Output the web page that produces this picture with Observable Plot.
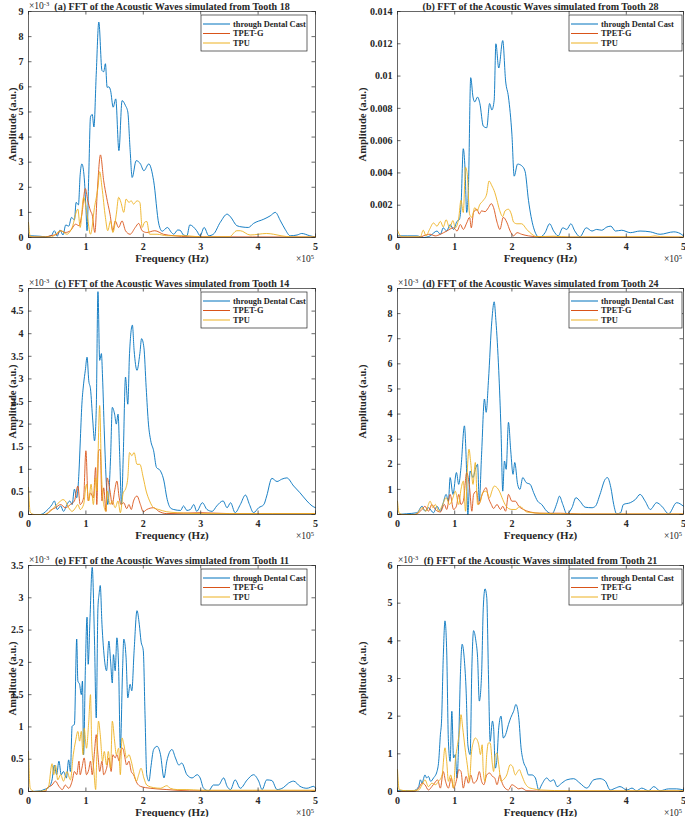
<!DOCTYPE html>
<html><head><meta charset="utf-8">
<script src="https://cdn.jsdelivr.net/npm/d3@7"></script>
<script src="https://cdn.jsdelivr.net/npm/@observablehq/plot@0.6"></script>
<style>
body{margin:0;background:#fff;}
#root{position:relative;width:685px;height:817px;overflow:hidden;background:#fff;}
.panel{position:absolute;}
.panel svg{overflow:visible;}
</style></head><body><div id="root"></div>
<script>
// Frequency in units of 1e5 Hz, amplitude in units of 1e-3 a.u.
const seriesNames = ["through Dental Cast", "TPET-G", "TPU"];
const seriesColors = ["#0072BD", "#D95319", "#EDB120"];
const xTickValues = [0, 1, 2, 3, 4, 5];

const titles = [
  "(a) FFT of the Acoustic Waves simulated from Tooth 18",
  "(b) FFT of the Acoustic Waves simulated from Tooth 28",
  "(c) FFT of the Acoustic Waves simulated from Tooth 14",
  "(d) FFT of the Acoustic Waves simulated from Tooth 24",
  "(e) FFT of the Acoustic Waves simulated from Tooth 11",
  "(f) FFT of the Acoustic Waves simulated from Tooth 21"
];
const yMaxes = [9, 14, 5, 9, 3.5, 6];
const yTickSteps = [1, 2, 0.5, 1, 0.5, 1];

// ---- (a) Tooth 18
const castA = [[0,0.07],[0.2,0.05],[0.3,0.03],[0.4,0.08],[0.45,0.27],[0.5,0.05],[0.55,0.3],[0.6,0.1],[0.65,0.5],[0.7,0.45],[0.75,0.8],[0.8,0.7],[0.83,1.4],[0.87,1.3],[0.9,2.5],[0.93,2.93],[0.97,2.4],[1.0,1.2],[1.02,0.27],[1.05,2.5],[1.08,4.8],[1.11,4.9],[1.14,4.4],[1.18,6.5],[1.225,8.58],[1.28,6.65],[1.31,6.6],[1.34,6.92],[1.37,5.98],[1.4,6.0],[1.43,5.85],[1.475,5.19],[1.52,5.52],[1.575,3.46],[1.63,5.45],[1.69,5.25],[1.73,5.0],[1.77,3.5],[1.806,2.39],[1.876,3.06],[1.95,2.93],[2.01,2.66],[2.096,2.93],[2.18,2.26],[2.27,0.54],[2.33,0.25],[2.42,0.4],[2.49,0.2],[2.53,0.13],[2.6,0.3],[2.64,0.29],[2.7,0.1],[2.76,0.07],[2.81,0.5],[2.93,0.27],[2.99,0.07],[3.06,0.4],[3.14,0.07],[3.22,0.13],[3.34,0.6],[3.46,0.93],[3.52,0.82],[3.63,0.47],[3.72,0.42],[3.83,0.4],[3.92,0.56],[4.1,0.73],[4.21,0.86],[4.3,1.0],[4.39,0.66],[4.47,0.33],[4.56,0.07],[4.68,0.1],[4.76,0.16],[4.9,0.07],[5,0.02]];
const tpetgA = [[0,0.02],[0.3,0.02],[0.38,0.07],[0.5,0.13],[0.56,0.27],[0.64,0.2],[0.73,0.27],[0.82,0.53],[0.88,0.47],[0.93,0.93],[0.99,1.95],[1.03,1.5],[1.08,1.06],[1.11,0.9],[1.156,0.2],[1.2,1.9],[1.254,3.29],[1.31,2.26],[1.36,1.6],[1.42,0.93],[1.47,0.27],[1.51,0.66],[1.57,0.4],[1.63,0.66],[1.69,0.27],[1.77,0.13],[1.86,0.4],[1.92,0.56],[1.98,0.27],[2.06,0.2],[2.2,0.27],[2.35,0.13],[2.53,0.07],[2.8,0.03],[5,0.02]];
const tpuA = [[0,0.6],[0.03,0.05],[0.1,0.02],[0.4,0.02],[0.44,0.07],[0.56,0.27],[0.67,0.13],[0.76,0.4],[0.86,1.13],[0.9,0.4],[0.96,1.6],[1.02,0.93],[1.08,0.13],[1.15,1.2],[1.21,2.0],[1.24,2.62],[1.28,2.0],[1.34,0.8],[1.38,0.27],[1.43,0.66],[1.47,0.2],[1.53,0.93],[1.57,1.6],[1.61,1.4],[1.66,1.0],[1.7,1.53],[1.75,1.4],[1.79,1.46],[1.83,1.33],[1.89,1.46],[1.94,1.4],[1.98,0.4],[2.02,0.6],[2.06,0.64],[2.11,0.13],[2.24,0.13],[2.41,0.07],[2.76,0.07],[3.0,0.02],[3.5,0.03],[3.63,0.27],[3.69,0.27],[3.86,0.1],[4.15,0.16],[4.27,0.13],[4.4,0.07],[4.6,0.02],[5,0.02]];

// ---- (b) Tooth 28
const castB = [[0,0.1],[0.34,0.1],[0.45,0],[0.57,0.1],[0.69,0.4],[0.75,0.2],[0.8,0.6],[0.86,0.4],[0.92,0.8],[0.98,0.5],[1.04,1.0],[1.08,1.1],[1.11,1.9],[1.15,5.5],[1.18,4.3],[1.21,1.55],[1.24,3.1],[1.28,9.9],[1.32,8.7],[1.35,8.4],[1.4,8.7],[1.44,8.3],[1.5,6.9],[1.56,6.8],[1.61,8.3],[1.65,7.9],[1.69,8.5],[1.72,12.0],[1.77,10.5],[1.84,12.2],[1.89,9.7],[1.94,8.7],[2.0,6.4],[2.04,3.8],[2.1,4.55],[2.17,4.45],[2.23,4.1],[2.29,2.3],[2.38,0.6],[2.48,0],[2.58,0.3],[2.66,0.85],[2.73,0.4],[2.81,0.1],[2.89,0.6],[2.96,0.5],[3.03,0.85],[3.1,0.4],[3.19,0.05],[3.3,0.6],[3.4,0.4],[3.48,0.5],[3.57,0.45],[3.66,0.65],[3.73,0.7],[3.81,0.4],[3.92,0.45],[4.07,0.3],[4.24,0.4],[4.42,0.35],[4.59,0.2],[4.83,0.35],[4.94,0.25],[5,0.1]];
const tpetgB = [[0,0.02],[0.4,0.02],[0.45,0.1],[0.57,0.2],[0.66,0.1],[0.75,0.2],[0.86,0.4],[0.98,0.6],[1.04,0.4],[1.1,0.8],[1.15,0.5],[1.21,0.9],[1.26,1.25],[1.29,0.6],[1.33,1.55],[1.39,1.75],[1.43,1.45],[1.47,1.65],[1.53,1.6],[1.59,1.85],[1.64,2.1],[1.68,1.85],[1.74,0.95],[1.79,0.5],[1.85,1.25],[1.91,0.95],[1.97,0.4],[2.03,0.1],[2.09,0.3],[2.17,0.2],[2.29,0.1],[2.49,0.04],[3,0.02],[5,0.02]];
const tpuB = [[0,0.45],[0.05,0.1],[0.1,0.04],[0.4,0.04],[0.45,0.45],[0.5,0.1],[0.56,0.5],[0.63,0.9],[0.69,0.7],[0.75,1.0],[0.8,0.65],[0.85,1.1],[0.91,0.6],[0.97,1.05],[1.01,0.6],[1.07,1.2],[1.11,2.3],[1.15,1.55],[1.19,4.35],[1.22,3.9],[1.26,1.45],[1.3,1.25],[1.35,1.85],[1.39,1.65],[1.44,2.05],[1.5,2.3],[1.56,2.7],[1.6,3.5],[1.65,3.2],[1.7,2.8],[1.74,2.3],[1.78,1.75],[1.84,1.3],[1.88,1.65],[1.94,1.75],[1.99,1.45],[2.03,0.95],[2.09,0.85],[2.17,0.85],[2.26,0.5],[2.35,0.2],[2.44,0.05],[2.73,0.08],[3,0.03],[4.4,0.05],[4.5,0.1],[4.6,0.05],[5,0.03]];

// ---- (c) Tooth 14
const castC = [[0,0],[0.21,0],[0.32,0.09],[0.41,0.22],[0.45,0.3],[0.5,0.11],[0.56,0.19],[0.61,0.07],[0.67,0.22],[0.72,0.3],[0.76,0.22],[0.8,0.56],[0.84,0.37],[0.88,0.96],[0.9,1.56],[0.93,2.44],[0.96,2.89],[0.99,3.19],[1.02,3.48],[1.05,2.96],[1.08,2.78],[1.12,2.07],[1.15,1.63],[1.18,2.3],[1.21,4.93],[1.24,3.41],[1.27,3.56],[1.29,3.04],[1.32,1.85],[1.36,0.59],[1.38,0.22],[1.43,1.26],[1.46,2.37],[1.5,2.22],[1.53,2.0],[1.56,2.22],[1.59,1.26],[1.62,0.22],[1.65,1.26],[1.69,3.04],[1.73,2.44],[1.76,3.56],[1.81,4.19],[1.84,3.63],[1.89,3.19],[1.94,3.56],[1.97,3.89],[2.01,3.7],[2.05,2.81],[2.09,2.0],[2.13,1.63],[2.18,1.41],[2.23,1.04],[2.29,0.98],[2.36,0.74],[2.41,0.37],[2.47,0.15],[2.53,0.11],[2.65,0.09],[2.7,0.19],[2.76,0.09],[2.82,0.11],[2.88,0.22],[2.93,0.07],[3.03,0.26],[3.11,0.11],[3.2,0.07],[3.28,0.19],[3.39,0.3],[3.46,0.15],[3.52,0.26],[3.6,0.04],[3.69,0.22],[3.78,0.43],[3.85,0.22],[3.92,0.04],[4.01,0.15],[4.1,0.22],[4.15,0.41],[4.24,0.8],[4.33,0.73],[4.41,0.78],[4.5,0.81],[4.62,0.63],[4.73,0.48],[4.85,0.3],[4.94,0.19],[5,0.15]];
const tpetgC = [[0,0],[0.3,0],[0.38,0.09],[0.47,0.15],[0.56,0.22],[0.64,0.15],[0.73,0.22],[0.8,0.3],[0.86,0.63],[0.9,0.22],[0.96,0.37],[1.0,1.41],[1.04,0.3],[1.08,0.48],[1.13,0.37],[1.17,1.04],[1.19,0.22],[1.22,1.41],[1.25,1.44],[1.28,0.3],[1.31,0.59],[1.35,0.07],[1.37,0.81],[1.42,0.52],[1.46,0.22],[1.5,0.52],[1.54,0.74],[1.58,0.37],[1.61,0.22],[1.66,0.26],[1.71,0.13],[1.75,0.22],[1.79,0.11],[1.83,0.3],[1.89,0.41],[1.95,0.22],[2.0,0.06],[2.06,0.11],[2.18,0.15],[2.27,0.07],[2.41,0.02],[3.0,0.04],[3.5,0.02],[5,0.02]];
const tpuC = [[0,0.6],[0.03,0.05],[0.1,0],[0.27,0],[0.38,0.07],[0.47,0.19],[0.56,0.3],[0.6,0.33],[0.64,0.3],[0.7,0.15],[0.76,0.07],[0.82,0.15],[0.86,0.22],[0.9,0.11],[0.96,0.22],[1.01,0.67],[1.05,0.3],[1.09,0.67],[1.13,0.22],[1.17,0.81],[1.19,0.52],[1.24,2.41],[1.27,0.96],[1.31,0.22],[1.35,0.07],[1.37,0.52],[1.42,0.22],[1.46,0.3],[1.51,0.15],[1.56,0.3],[1.6,0.04],[1.65,0.48],[1.69,0.56],[1.73,0.81],[1.76,1.37],[1.8,1.3],[1.84,1.37],[1.89,1.11],[1.94,1.11],[2.0,0.81],[2.05,0.52],[2.11,0.3],[2.18,0.15],[2.27,0.11],[2.41,0.06],[2.59,0.04],[3,0.02],[5,0.02]];

// ---- (d) Tooth 24
const castD = [[0,0],[0.16,0.03],[0.34,0.07],[0.43,0.33],[0.48,0.13],[0.54,0.27],[0.63,0.07],[0.69,0.33],[0.75,0.13],[0.8,0.47],[0.85,0.8],[0.89,0.53],[0.92,1.47],[0.97,0.8],[1.03,1.67],[1.07,1.2],[1.11,1.87],[1.17,3.53],[1.2,2.27],[1.23,0],[1.27,1.73],[1.32,1.47],[1.36,1.8],[1.4,2.0],[1.43,0.53],[1.47,2.4],[1.52,4.6],[1.55,4.07],[1.59,5.33],[1.65,7.73],[1.69,8.47],[1.72,7.73],[1.77,5.73],[1.81,3.33],[1.84,0.93],[1.87,2.13],[1.9,1.8],[1.94,3.67],[1.98,2.53],[2.02,1.6],[2.05,2.07],[2.1,1.2],[2.14,1.0],[2.19,1.47],[2.25,1.27],[2.32,1.2],[2.38,0.87],[2.45,0.53],[2.52,0.4],[2.61,0.13],[2.7,0.03],[2.79,0.47],[2.83,0.73],[2.89,0.4],[2.96,0.03],[3.05,0.27],[3.12,0.67],[3.19,0.53],[3.28,0.29],[3.4,0.27],[3.46,0.33],[3.54,0.8],[3.63,1.4],[3.67,1.47],[3.73,1.07],[3.78,0.4],[3.83,0.03],[3.9,0.07],[3.95,0.4],[4.07,0.47],[4.16,0.6],[4.24,0.8],[4.33,0.53],[4.42,0.2],[4.53,0.47],[4.62,0.33],[4.74,0.03],[4.88,0.47],[5,0.33]];
const tpetgD = [[0,0],[0.3,0],[0.34,0.03],[0.43,0.2],[0.48,0.33],[0.54,0.13],[0.6,0.4],[0.66,0.2],[0.75,0.1],[0.82,0.4],[0.86,0.2],[0.92,0.8],[0.98,0.2],[1.03,0.33],[1.07,0.8],[1.11,0.4],[1.15,0.53],[1.21,1.67],[1.26,1.07],[1.3,0.13],[1.33,0.8],[1.38,0.93],[1.42,0.4],[1.47,0.73],[1.52,1.0],[1.55,1.07],[1.59,0.67],[1.64,0.4],[1.68,0.24],[1.74,0.4],[1.8,0.2],[1.84,0.33],[1.89,0.13],[1.94,0.8],[2.0,0.53],[2.06,0.53],[2.12,0.33],[2.2,0.2],[2.32,0.1],[2.49,0.05],[2.85,0.05],[3.2,0.02],[5,0.02]];
const tpuD = [[0,0.53],[0.03,0.05],[0.1,0],[0.3,0],[0.34,0.03],[0.43,0.27],[0.5,0.13],[0.54,0.4],[0.57,0.53],[0.62,0.27],[0.66,0.4],[0.72,0.13],[0.79,0.4],[0.85,0.67],[0.91,0.4],[0.97,0.67],[1.01,0.93],[1.07,0.4],[1.11,1.0],[1.15,1.33],[1.19,0.13],[1.22,1.73],[1.25,2.6],[1.28,2.07],[1.32,1.2],[1.36,2.07],[1.4,0.4],[1.45,0.53],[1.49,0.87],[1.55,0.93],[1.61,0.67],[1.65,0.93],[1.69,1.13],[1.74,1.07],[1.78,0.93],[1.84,0.6],[1.88,0.4],[1.94,0.24],[2.0,0.2],[2.07,0.2],[2.14,0.33],[2.19,0.24],[2.26,0.1],[2.49,0.05],[3,0.02],[5,0.02]];

// ---- (e) Tooth 11
const castE = [[0,0],[0.21,0.01],[0.27,0.03],[0.35,0.06],[0.41,0.18],[0.45,0.41],[0.49,0.26],[0.53,0.47],[0.57,0.26],[0.61,0.31],[0.66,0.21],[0.7,0.49],[0.73,0.31],[0.76,1.01],[0.8,1.04],[0.84,2.36],[0.86,1.71],[0.89,1.66],[0.92,1.5],[0.94,1.71],[0.96,0.57],[0.99,1.87],[1.02,2.7],[1.04,1.97],[1.07,2.64],[1.11,3.47],[1.15,2.33],[1.18,1.14],[1.21,2.85],[1.23,3.06],[1.25,3.19],[1.28,2.59],[1.31,2.18],[1.36,1.87],[1.4,2.33],[1.43,2.02],[1.46,1.68],[1.48,2.12],[1.51,1.87],[1.54,2.38],[1.57,1.92],[1.6,0.67],[1.64,1.92],[1.66,2.36],[1.7,2.07],[1.73,1.45],[1.77,1.66],[1.8,1.56],[1.84,2.18],[1.89,2.8],[1.93,2.59],[1.96,2.33],[2.0,2.18],[2.03,1.19],[2.06,0.26],[2.1,0.16],[2.13,0.36],[2.18,0.65],[2.24,0.7],[2.3,0.57],[2.36,0.21],[2.41,0.47],[2.5,0.65],[2.56,0.52],[2.62,0.41],[2.67,0.44],[2.76,0.26],[2.85,0.21],[2.94,0.26],[2.99,0.21],[3.05,0.05],[3.14,0.01],[3.22,0.1],[3.31,0.1],[3.4,0.21],[3.46,0.08],[3.52,0.03],[3.6,0.18],[3.69,0.05],[3.81,0.18],[3.92,0.26],[4.01,0.16],[4.07,0.03],[4.15,0.18],[4.24,0.17],[4.33,0.03],[4.44,0.06],[4.53,0.13],[4.62,0.16],[4.73,0.08],[4.85,0.05],[4.97,0.08],[5,0.05]];
const tpetgE = [[0,0],[0.3,0],[0.32,0.05],[0.41,0.1],[0.47,0.16],[0.53,0.08],[0.59,0.03],[0.64,0.1],[0.7,0.05],[0.76,0.16],[0.8,0.31],[0.84,0.26],[0.88,0.47],[0.9,0.26],[0.93,0.36],[0.97,0.52],[1.01,0.26],[1.05,0.34],[1.08,0.47],[1.11,0.26],[1.15,0.62],[1.18,0.88],[1.21,0.57],[1.24,0.31],[1.28,0.47],[1.31,0.26],[1.36,0.36],[1.4,0.52],[1.44,0.31],[1.47,0.57],[1.51,0.52],[1.54,0.57],[1.58,0.47],[1.61,0.65],[1.64,0.67],[1.67,0.57],[1.71,0.41],[1.75,0.47],[1.79,0.31],[1.83,0.26],[1.89,0.13],[1.95,0.08],[2.04,0.06],[2.12,0.05],[2.24,0.04],[2.41,0.03],[2.8,0.01],[5,0.01]];
const tpuE = [[0,0.62],[0.03,0.05],[0.1,0],[0.27,0.01],[0.35,0.08],[0.41,0.43],[0.44,0.26],[0.47,0.41],[0.51,0.18],[0.56,0.26],[0.61,0.16],[0.67,0.31],[0.73,0.18],[0.78,0.57],[0.82,0.78],[0.86,0.93],[0.89,0.78],[0.92,0.93],[0.95,0.57],[0.97,0.98],[1.01,0.67],[1.05,1.09],[1.08,1.5],[1.1,0.78],[1.14,0.31],[1.17,0.03],[1.19,0.57],[1.22,1.09],[1.25,0.88],[1.29,0.47],[1.32,0.62],[1.36,0.41],[1.39,0.62],[1.43,0.36],[1.46,1.09],[1.5,0.78],[1.53,0.57],[1.57,0.67],[1.6,0.26],[1.63,0.83],[1.66,0.73],[1.71,0.52],[1.75,0.57],[1.79,0.47],[1.83,0.31],[1.88,0.16],[1.92,0.26],[1.96,0.36],[2.01,0.21],[2.06,0.1],[2.18,0.06],[2.3,0.05],[2.41,0.09],[2.47,0.05],[2.59,0.03],[2.76,0.03],[3,0.02],[5,0.02]];

// ---- (f) Tooth 21
const castF = [[0,0.02],[0.28,0.02],[0.37,0.13],[0.4,0.31],[0.43,0.22],[0.45,0.31],[0.48,0.44],[0.51,0.36],[0.54,0.4],[0.58,0.27],[0.63,0.36],[0.69,0.53],[0.72,0.8],[0.75,1.51],[0.77,1.87],[0.8,3.56],[0.83,4.53],[0.86,3.73],[0.89,1.33],[0.92,0.8],[0.95,2.13],[0.98,0.89],[1.01,0.98],[1.04,0.36],[1.07,1.33],[1.1,3.11],[1.13,3.91],[1.17,3.47],[1.2,2.67],[1.23,1.24],[1.27,0.98],[1.3,3.29],[1.33,4.27],[1.37,4.0],[1.4,3.56],[1.43,2.4],[1.47,3.11],[1.5,4.89],[1.53,5.38],[1.56,5.16],[1.59,3.11],[1.62,1.33],[1.66,1.87],[1.68,1.69],[1.71,0.62],[1.74,0.89],[1.77,1.69],[1.81,2.0],[1.85,1.42],[1.89,1.51],[1.94,1.78],[1.98,1.96],[2.03,2.13],[2.07,2.31],[2.12,1.96],[2.16,1.16],[2.2,0.8],[2.25,0.62],[2.29,0.44],[2.35,0.44],[2.41,0.36],[2.47,0.04],[2.52,0.18],[2.61,0.36],[2.67,0.27],[2.73,0.31],[2.79,0.13],[2.87,0.22],[2.96,0.31],[3.08,0.34],[3.19,0.22],[3.31,0.09],[3.43,0.31],[3.54,0.34],[3.63,0.28],[3.72,0.04],[3.81,0.09],[3.89,0.13],[4.01,0.04],[4.1,0.09],[4.18,0.02],[4.27,0.09],[4.39,0.02],[4.48,0.13],[4.59,0.02],[4.74,0.07],[4.88,0.07],[5,0.04]];
const tpetgF = [[0,0],[0.3,0],[0.37,0.09],[0.43,0.22],[0.48,0.18],[0.54,0.04],[0.6,0.13],[0.66,0.25],[0.7,0.31],[0.75,0.09],[0.8,0.53],[0.84,0.27],[0.89,0.09],[0.94,0.36],[0.98,0.09],[1.04,0.36],[1.07,0.58],[1.11,0.53],[1.15,0.09],[1.2,0.4],[1.24,0.22],[1.28,0.44],[1.33,0.22],[1.39,0.31],[1.43,0.53],[1.47,0.27],[1.51,0.18],[1.56,0.44],[1.61,0.49],[1.66,0.4],[1.7,0.36],[1.74,0.18],[1.79,0.44],[1.82,0.27],[1.88,0.09],[1.94,0.04],[2.0,0.18],[2.06,0.13],[2.12,0.07],[2.17,0.09],[2.26,0.02],[2.6,0.01],[5,0.01]];
const tpuF = [[0,0.58],[0.03,0.05],[0.16,0.02],[0.37,0.04],[0.43,0.18],[0.48,0.31],[0.54,0.13],[0.6,0.22],[0.66,0.18],[0.72,0.27],[0.78,0.44],[0.83,1.16],[0.86,0.8],[0.89,0.27],[0.93,0.44],[0.98,0.09],[1.01,0.8],[1.05,1.24],[1.09,1.69],[1.11,2.04],[1.14,1.69],[1.18,1.16],[1.22,0.71],[1.26,0.27],[1.29,0.98],[1.33,1.33],[1.36,1.42],[1.39,1.38],[1.42,1.24],[1.45,0.98],[1.48,1.24],[1.5,0.53],[1.53,0.27],[1.56,0.98],[1.59,1.29],[1.62,1.29],[1.66,0.71],[1.68,0.53],[1.71,0.98],[1.74,1.02],[1.77,0.71],[1.81,0.27],[1.85,0.31],[1.91,0.44],[1.97,0.71],[2.01,0.67],[2.06,0.44],[2.1,0.53],[2.13,0.58],[2.17,0.44],[2.23,0.22],[2.29,0.11],[2.38,0.07],[2.49,0.04],[3,0.02],[5,0.02]];

const panelSeries = [
  [castA, tpetgA, tpuA],
  [castB, tpetgB, tpuB],
  [castC, tpetgC, tpuC],
  [castD, tpetgD, tpuD],
  [castE, tpetgE, tpuE],
  [castF, tpetgF, tpuF]
];

// ---- layout
const FONT = "'Liberation Serif', 'DejaVu Serif', serif";
const INK = "#262626";
const rowTops = [0, 277, 554];
const colLefts = [0, 340];
const colWidths = [340, 345];
const colMarginLeft = [28, 57];
const colMarginRight = [25, 2];
const H = 270, MT = 11, MB = 33;
const root = document.getElementById("root");

function fmtY(i) {
  if (i === 1) return d => d === 0 ? "0" : String(+(d / 1000).toFixed(3));
  return d => String(+d.toFixed(1));
}

panelSeries.forEach((series, i) => {
  const col = i % 2, row = Math.floor(i / 2);
  const W = colWidths[col], ML = colMarginLeft[col], MR = colMarginRight[col];
  const plotH = H - MT - MB, plotW = W - ML - MR;
  const yTicks = d3.range(0, yMaxes[i] + 1e-9, yTickSteps[i]);
  const data = series.map((s, k) => s.map(([f, a]) => ({f, a, k})));

  const svg = Plot.plot({
    width: W, height: H,
    marginLeft: ML, marginRight: MR, marginTop: MT, marginBottom: MB,
    style: {fontFamily: FONT, fontSize: "10px", color: INK, background: "transparent", overflow: "visible"},
    x: {domain: [0, 5]},
    y: {domain: [0, yMaxes[i]]},
    marks: [
      ...data.map((d, k) => Plot.line(d, {x: "f", y: "a", stroke: seriesColors[k], strokeWidth: 0.9, curve: "monotone-x"})),
      Plot.frame({stroke: INK, strokeWidth: 0.7}),
      Plot.tickX(xTickValues, {x: d => d, insetTop: plotH - 3.5, stroke: INK, strokeWidth: 0.7}),
      Plot.tickX(xTickValues, {x: d => d, insetBottom: plotH - 3.5, stroke: INK, strokeWidth: 0.7}),
      Plot.tickY(yTicks, {y: d => d, insetRight: plotW - 3.5, stroke: INK, strokeWidth: 0.7}),
      Plot.tickY(yTicks, {y: d => d, insetLeft: plotW - 3.5, stroke: INK, strokeWidth: 0.7}),
      Plot.axisX(xTickValues, {tickSize: 0, tickPadding: 5, fontWeight: "bold", fontSize: 10, label: null}),
      Plot.axisY(yTicks, {tickSize: 0, tickPadding: 5, fontWeight: "bold", fontSize: 10, label: null, tickFormat: fmtY(i)}),
      Plot.text([titles[i]], {text: d => d, frameAnchor: "top", lineAnchor: "middle", textAnchor: "middle", dy: -5, fontWeight: "bold", fontSize: 10, fill: INK}),
      Plot.text(["Frequency (Hz)"], {text: d => d, frameAnchor: "bottom", lineAnchor: "middle", textAnchor: "middle", dy: 21, fontWeight: "bold", fontSize: 11, fill: INK}),
      Plot.text(["Amplitude (a.u.)"], {text: d => d, frameAnchor: "left", lineAnchor: "middle", textAnchor: "middle", rotate: -90, dx: col === 0 ? -16 : -35, fontWeight: "bold", fontSize: 10.5, fill: INK})
    ]
  });

  const div = document.createElement("div");
  div.className = "panel";
  div.style.left = colLefts[col] + "px";
  div.style.top = rowTops[row] + "px";
  div.appendChild(svg);
  root.appendChild(div);

  const s = d3.select(svg);
  const right = W - MR, bottom = MT + plotH;

  // exponent labels
  if (i !== 1) {
    const t = s.append("text").attr("x", ML + 1).attr("y", MT - 2).attr("text-anchor", "start")
      .attr("font-family", FONT).attr("font-size", 9.5).attr("fill", INK);
    t.append("tspan").text("×10");
    t.append("tspan").attr("dy", -3.5).attr("font-size", 6.5).text("-3");
  }
  const tx = s.append("text").attr("x", right - 1).attr("y", bottom + 25)
    .attr("text-anchor", "end").attr("font-family", FONT).attr("font-size", 9.5).attr("fill", INK);
  tx.append("tspan").text("×10");
  tx.append("tspan").attr("dy", -3.5).attr("font-size", 6.5).text("5");

  // legend
  const bw = col === 0 ? 106 : 113;
  const bx = right - 114;
  const by = MT + 4;
  const lg = s.append("g");
  lg.append("rect").attr("x", bx).attr("y", by).attr("width", bw).attr("height", 36)
    .attr("fill", "#fff").attr("stroke", INK).attr("stroke-width", 0.7);
  seriesNames.forEach((name, k) => {
    const yy = by + 9 + k * 9.5;
    lg.append("line").attr("x1", bx + 2).attr("x2", bx + 29).attr("y1", yy).attr("y2", yy)
      .attr("stroke", seriesColors[k]).attr("stroke-width", 1);
    lg.append("text").attr("x", bx + 32).attr("y", yy).attr("dy", "0.35em").attr("text-anchor", "start")
      .attr("font-family", FONT).attr("font-size", 8.4).attr("font-weight", "bold").attr("fill", INK).text(name);
  });
});
</script>
</body></html>
